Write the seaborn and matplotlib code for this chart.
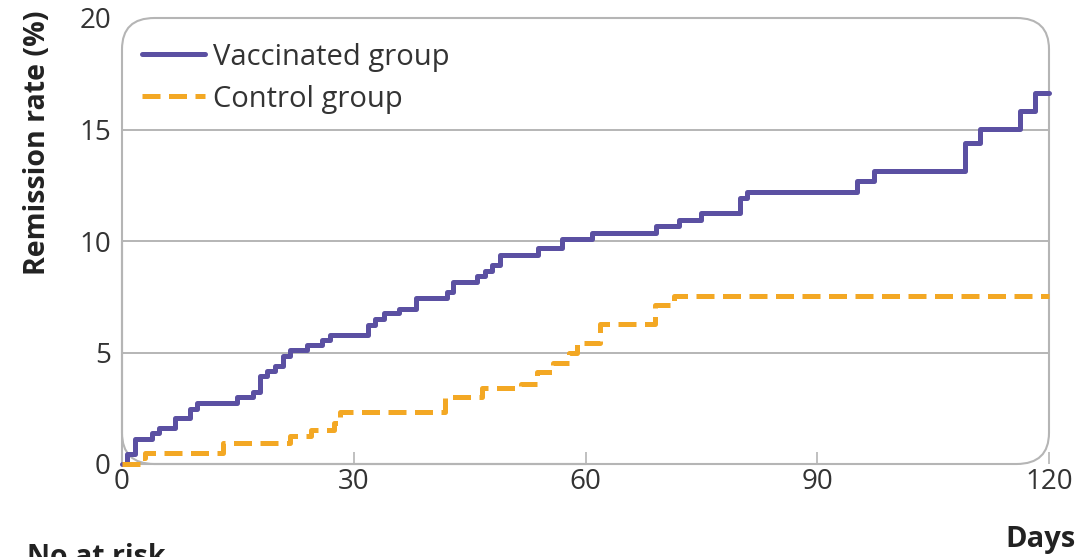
import numpy as np
import pandas as pd
import matplotlib
matplotlib.use("Agg")
import matplotlib.pyplot as plt
from matplotlib.patches import FancyBboxPatch
import seaborn as sns

# ---- data ----
vacc_days = [0, 0.6, 1.7, 3.85, 4.8, 6.85, 8.8, 9.75, 14.85, 16.9, 17.8, 18.75, 19.8, 20.8,
             21.8, 23.9, 25.9, 26.9, 31.9, 32.7, 33.9, 35.8, 38.0, 42.1, 42.9, 45.9, 47.0,
             47.9, 48.9, 53.9, 56.9, 60.9, 69.1, 72.1, 75.0, 80.0, 80.9, 95.2, 97.3, 109.1,
             111.1, 116.2, 118.2, 120]
vacc_rate = [0, 0.45, 1.1, 1.37, 1.6, 2.05, 2.45, 2.72, 2.99, 3.24, 3.95, 4.18, 4.39, 4.84,
             5.11, 5.34, 5.56, 5.78, 6.23, 6.49, 6.76, 6.94, 7.43, 7.73, 8.18, 8.43, 8.67,
             8.92, 9.37, 9.67, 10.08, 10.37, 10.67, 10.94, 11.27, 11.91, 12.21, 12.7, 13.14,
             14.41, 15.02, 15.83, 16.65, 16.65]
ctrl_days = [0, 2.5, 3.0, 13.1, 21.7, 24.5, 27.5, 28.2, 41.8, 46.6, 51.7, 53.7, 55.8, 57.9,
             58.9, 61.9, 69.0, 71.4, 120]
ctrl_rate = [0, 0.25, 0.48, 0.96, 1.26, 1.52, 1.82, 2.35, 2.99, 3.39, 3.6, 4.14, 4.52, 5.0,
             5.43, 6.27, 7.13, 7.53, 7.53]
groups = ["Vaccinated group", "Control group"]
x_ticks = [0, 30, 60, 90, 120]
y_ticks = [0, 5, 10, 15, 20]

df = pd.concat([
    pd.DataFrame({"Days": vacc_days, "Rate": vacc_rate, "Group": groups[0]}),
    pd.DataFrame({"Days": ctrl_days, "Rate": ctrl_rate, "Group": groups[1]}),
], ignore_index=True)

sns.set_style("white")
plt.rcParams["font.family"] = ["Open Sans", "DejaVu Sans"]

purple = "#5b50a2"
orange = "#f3a824"
grid_c = "#b5b5b5"

fig = plt.figure(figsize=(10.89, 5.57), dpi=100)
ax = fig.add_axes([122 / 1089, 1 - 464 / 557, (1049 - 122) / 1089, (464 - 18) / 557])

sns.lineplot(data=df, x="Days", y="Rate", hue="Group", style="Group",
             palette={groups[0]: purple, groups[1]: orange},
             dashes={groups[0]: "", groups[1]: (3.6, 1.7)},
             drawstyle="steps-post", linewidth=3.6, sort=False,
             estimator=None, ax=ax, clip_on=False, zorder=5)

ax.set_xlim(0, 120)
ax.set_ylim(0, 20)
ax.set_xticks(x_ticks)
ax.set_yticks(y_ticks)
for s in ax.spines.values():
    s.set_visible(False)
for y in [5, 10, 15]:
    ax.axhline(y, color=grid_c, lw=1.4, zorder=1)

box = FancyBboxPatch((0, 0), 1, 1, boxstyle="round,pad=0,rounding_size=0.035",
                     transform=ax.transAxes, fill=False, ec=grid_c, lw=1.5,
                     clip_on=False, zorder=2, mutation_aspect=2.0)
ax.add_patch(box)
ax.plot([0, 0], [0, 0.5], transform=ax.transAxes, color=grid_c, lw=1.5, clip_on=False, zorder=2)
ax.plot([0, 0.5], [0, 0], transform=ax.transAxes, color=grid_c, lw=1.5, clip_on=False, zorder=2)

ax.tick_params(axis="x", direction="in", length=9, width=1.2, color=grid_c,
               labelsize=20, labelcolor="#333333", pad=3, bottom=True)
ax.tick_params(axis="y", length=0, labelsize=20, labelcolor="#333333", pad=8)

ax.set_xlabel("")
ax.set_ylabel("Remission rate (%)", fontsize=20.5, fontweight="bold", color="#222222")
ax.yaxis.set_label_coords(-0.0755, 0.72)

leg = ax.legend(loc="upper left", frameon=False, fontsize=21, handlelength=2.15,
                handletextpad=0.27, labelspacing=0.45, borderaxespad=0.0, borderpad=0.0,
                bbox_to_anchor=(0.022, 0.945))
for t in leg.get_texts():
    t.set_color("#333333")
for h in leg.get_lines():
    h.set_linewidth(3.6)

fig.text(1076 / 1089, 1 - 540 / 557, "Days", ha="right", va="center",
         fontsize=21, fontweight="bold", color="#222222")
fig.text(27 / 1089, 1 - 543 / 557, "No at risk", ha="left", va="top",
         fontsize=20.5, fontweight="bold", color="#222222")

fig.savefig("out.png", dpi=100)
